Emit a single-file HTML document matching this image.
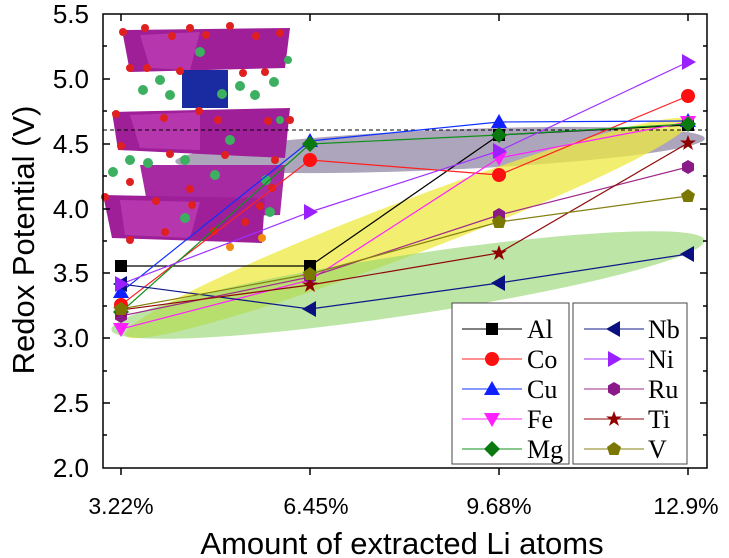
<!DOCTYPE html>
<html><head><meta charset="utf-8"><style>body{margin:0;background:#fff}svg{display:block}</style></head><body>
<svg width="729" height="558" viewBox="0 0 729 558" xmlns="http://www.w3.org/2000/svg" font-family="Liberation Sans, sans-serif">
<defs>
<g id="sq"><rect x="-6" y="-6" width="12" height="12"/></g>
<g id="ci"><circle r="7"/></g>
<g id="tu"><polygon points="0,-8 8,6 -8,6"/></g>
<g id="td"><polygon points="0,8 8,-6 -8,-6"/></g>
<g id="di"><polygon points="0,-8 8,0 0,8 -8,0"/></g>
<g id="tl"><polygon points="-8,0 6,-8 6,8"/></g>
<g id="tr"><polygon points="8,0 -6,-8 -6,8"/></g>
<g id="hx"><polygon points="0,-7 6,-3.5 6,3.5 0,7 -6,3.5 -6,-3.5"/></g>
<g id="st"><polygon points="0,-8 2,-2.5 8,-2.5 3,1 5,7 0,3.5 -5,7 -3,1 -8,-2.5 -2,-2.5"/></g>
<g id="pe"><polygon points="0,-7 7,-2 4.5,6 -4.5,6 -7,-2"/></g>
</defs>
<ellipse cx="440" cy="150" rx="265" ry="20" transform="rotate(-2.5 440 150)" fill="#8a7fa0" opacity="0.7"/>
<ellipse cx="408" cy="228" rx="302" ry="27" transform="rotate(-20.8 408 228)" fill="#eeea40" opacity="0.75"/>
<ellipse cx="408" cy="285" rx="300" ry="30" transform="rotate(-8.6 408 285)" fill="#8fd36a" opacity="0.6"/>
<g>
<polygon points="122,30 290,28 285,68 130,72" fill="#9e1f98"/>
<polygon points="112,112 290,108 285,158 118,150" fill="#9e1f98"/>
<polygon points="140,165 285,165 280,215 150,218" fill="#a82aa2"/>
<polygon points="103,195 265,198 262,243 112,238" fill="#9e1f98"/>
<polygon points="140,35 200,32 190,70 150,68" fill="#c040b8" opacity="0.7"/>
<polygon points="130,115 200,112 200,150 140,148" fill="#c040b8" opacity="0.7"/>
<polygon points="120,200 200,202 190,238 125,235" fill="#c040b8" opacity="0.7"/>
<rect x="182" y="70" width="46" height="38" fill="#1a2aa0"/>
<g fill="#e02020">
<circle cx="123" cy="32" r="4"/><circle cx="145" cy="28" r="4"/><circle cx="172" cy="36" r="4"/><circle cx="190" cy="28" r="4"/><circle cx="206" cy="35" r="4"/><circle cx="230" cy="26" r="4"/><circle cx="256" cy="36" r="4"/><circle cx="280" cy="33" r="4"/><circle cx="130" cy="68" r="4"/><circle cx="147" cy="68" r="4"/><circle cx="180" cy="71" r="4"/><circle cx="243" cy="73" r="4"/><circle cx="265" cy="72" r="4"/><circle cx="116" cy="114" r="4"/><circle cx="164" cy="118" r="4"/><circle cx="199" cy="111" r="4"/><circle cx="218" cy="120" r="4"/><circle cx="268" cy="121" r="4"/><circle cx="290" cy="120" r="4"/><circle cx="121" cy="146" r="4"/><circle cx="170" cy="154" r="4"/><circle cx="225" cy="155" r="4"/><circle cx="275" cy="160" r="4"/><circle cx="130" cy="182" r="4"/><circle cx="190" cy="189" r="4"/><circle cx="272" cy="188" r="4"/><circle cx="105" cy="197" r="4"/><circle cx="156" cy="201" r="4"/><circle cx="192" cy="205" r="4"/><circle cx="260" cy="206" r="4"/><circle cx="130" cy="240" r="4"/><circle cx="165" cy="232" r="4"/><circle cx="214" cy="231" r="4"/><circle cx="245" cy="222" r="4"/>
</g>
<g fill="#3cb060">
<circle cx="200" cy="52" r="5"/><circle cx="143" cy="90" r="5"/><circle cx="170" cy="95" r="5"/><circle cx="160" cy="80" r="5"/><circle cx="222" cy="94" r="5"/><circle cx="255" cy="95" r="5"/><circle cx="274" cy="82" r="5"/><circle cx="240" cy="86" r="5"/><circle cx="113" cy="172" r="5"/><circle cx="148" cy="163" r="5"/><circle cx="185" cy="160" r="5"/><circle cx="215" cy="175" r="5"/><circle cx="230" cy="140" r="5"/><circle cx="266" cy="180" r="5"/><circle cx="185" cy="218" r="5"/><circle cx="270" cy="212" r="5"/><circle cx="288" cy="60" r="4"/><circle cx="280" cy="120" r="4"/><circle cx="130" cy="160" r="5"/>
</g>
<circle cx="230" cy="247" r="4" fill="#f08a10"/><circle cx="262" cy="238" r="4" fill="#f08a10"/>
</g>
<line x1="103" y1="130" x2="707" y2="130" stroke="#000" stroke-width="1" stroke-dasharray="4,3"/>
<g fill="none" stroke-width="1.2">
<polyline stroke="#000" points="121,266 310,266 499,135 688,125"/>
<polyline stroke="#ff2020" points="121,305 310,160 499,175 688,96"/>
<polyline stroke="#1030ff" points="121,292 310,141 499,122 688,121"/>
<polyline stroke="#ff20ff" points="121,329 310,280 499,158 688,122"/>
<polyline stroke="#10901a" points="121,312 310,144 499,135 688,124"/>
<polyline stroke="#101888" points="121,284 310,309 499,283 688,254"/>
<polyline stroke="#a030ff" points="121,284 310,212 499,151 688,62"/>
<polyline stroke="#a02a8a" points="121,316 310,277 499,215 688,167"/>
<polyline stroke="#900808" points="121,310 310,285 499,253 688,143"/>
<polyline stroke="#848010" points="121,309 310,274 499,222 688,196"/>
</g>
<g fill="#000"><use href="#sq" x="121" y="266"/><use href="#sq" x="310" y="266"/><use href="#sq" x="499" y="135"/><use href="#sq" x="688" y="125"/></g>
<g fill="#ff1010"><use href="#ci" x="121" y="305"/><use href="#ci" x="310" y="160"/><use href="#ci" x="499" y="175"/><use href="#ci" x="688" y="96"/></g>
<g fill="#1020ff"><use href="#tu" x="121" y="292"/><use href="#tu" x="310" y="141"/><use href="#tu" x="499" y="122"/><use href="#tu" x="688" y="121"/></g>
<g fill="#ff20ff"><use href="#td" x="121" y="329"/><use href="#td" x="310" y="280"/><use href="#td" x="499" y="158"/><use href="#td" x="688" y="122"/></g>
<g fill="#0a7a10"><use href="#di" x="121" y="312"/><use href="#di" x="310" y="144"/><use href="#di" x="499" y="135"/><use href="#di" x="688" y="124"/></g>
<g fill="#0a1080"><use href="#tl" x="121" y="284"/><use href="#tl" x="310" y="309"/><use href="#tl" x="499" y="283"/><use href="#tl" x="688" y="254"/></g>
<g fill="#9a20ff"><use href="#tr" x="121" y="284"/><use href="#tr" x="310" y="212"/><use href="#tr" x="499" y="151"/><use href="#tr" x="688" y="62"/></g>
<g fill="#8a1a88"><use href="#hx" x="121" y="316"/><use href="#hx" x="310" y="277"/><use href="#hx" x="499" y="215"/><use href="#hx" x="688" y="167"/></g>
<g fill="#900000"><use href="#st" x="121" y="310"/><use href="#st" x="310" y="285"/><use href="#st" x="499" y="253"/><use href="#st" x="688" y="143"/></g>
<g fill="#7a7800"><use href="#pe" x="121" y="309"/><use href="#pe" x="310" y="274"/><use href="#pe" x="499" y="222"/><use href="#pe" x="688" y="196"/></g>
<rect x="103" y="14" width="604" height="454" fill="none" stroke="#000" stroke-width="1.5"/>
<g stroke="#000" stroke-width="1.5">
<line x1="103" y1="79" x2="110" y2="79"/><line x1="103" y1="144" x2="110" y2="144"/><line x1="103" y1="209" x2="110" y2="209"/><line x1="103" y1="273" x2="110" y2="273"/><line x1="103" y1="338" x2="110" y2="338"/><line x1="103" y1="403" x2="110" y2="403"/>
<line x1="103" y1="46" x2="107" y2="46"/><line x1="103" y1="111" x2="107" y2="111"/><line x1="103" y1="176" x2="107" y2="176"/><line x1="103" y1="241" x2="107" y2="241"/><line x1="103" y1="306" x2="107" y2="306"/><line x1="103" y1="371" x2="107" y2="371"/><line x1="103" y1="435" x2="107" y2="435"/>
<line x1="707" y1="79" x2="700" y2="79"/><line x1="707" y1="144" x2="700" y2="144"/><line x1="707" y1="209" x2="700" y2="209"/><line x1="707" y1="273" x2="700" y2="273"/><line x1="707" y1="338" x2="700" y2="338"/><line x1="707" y1="403" x2="700" y2="403"/>
<line x1="707" y1="46" x2="703" y2="46"/><line x1="707" y1="111" x2="703" y2="111"/><line x1="707" y1="176" x2="703" y2="176"/><line x1="707" y1="241" x2="703" y2="241"/><line x1="707" y1="306" x2="703" y2="306"/><line x1="707" y1="371" x2="703" y2="371"/><line x1="707" y1="435" x2="703" y2="435"/>
<line x1="121" y1="468" x2="121" y2="475"/><line x1="310" y1="468" x2="310" y2="475"/><line x1="499" y1="468" x2="499" y2="475"/><line x1="688" y1="468" x2="688" y2="475"/>
<line x1="121" y1="14" x2="121" y2="21"/><line x1="310" y1="14" x2="310" y2="21"/><line x1="499" y1="14" x2="499" y2="21"/><line x1="688" y1="14" x2="688" y2="21"/>
</g>
<g font-size="26" text-anchor="end" fill="#000">
<text x="89" y="23">5.5</text><text x="89" y="88">5.0</text><text x="89" y="153">4.5</text><text x="89" y="218">4.0</text><text x="89" y="282">3.5</text><text x="89" y="347">3.0</text><text x="89" y="412">2.5</text><text x="89" y="477">2.0</text>
</g>
<g font-size="23" text-anchor="middle" fill="#000">
<text x="121" y="514">3.22%</text><text x="316" y="514">6.45%</text><text x="499" y="514">9.68%</text><text x="686" y="514">12.9%</text>
</g>
<text x="402" y="554" font-size="31" text-anchor="middle">Amount of extracted Li atoms</text>
<text transform="translate(34 240) rotate(-90)" font-size="31" text-anchor="middle">Redox Potential (V)</text>
<rect x="452" y="303" width="117" height="161" fill="#fff" stroke="#444" stroke-width="1"/>
<rect x="573" y="303" width="114" height="161" fill="#fff" stroke="#444" stroke-width="1"/>
<g font-family="Liberation Serif, serif" font-size="26" fill="#000">
<line x1="462" y1="329" x2="522" y2="329" stroke="#000"/><use href="#sq" x="492" y="329"/><text x="527" y="338">Al</text>
<line x1="462" y1="359" x2="522" y2="359" stroke="#ff2020"/><use href="#ci" x="492" y="359" fill="#ff1010"/><text x="527" y="368">Co</text>
<line x1="462" y1="389" x2="522" y2="389" stroke="#1030ff"/><use href="#tu" x="492" y="389" fill="#1020ff"/><text x="527" y="398">Cu</text>
<line x1="462" y1="419" x2="522" y2="419" stroke="#ff20ff"/><use href="#td" x="492" y="419" fill="#ff20ff"/><text x="527" y="428">Fe</text>
<line x1="462" y1="449" x2="522" y2="449" stroke="#10901a"/><use href="#di" x="492" y="449" fill="#0a7a10"/><text x="527" y="458">Mg</text>
<line x1="584" y1="329" x2="644" y2="329" stroke="#101888"/><use href="#tl" x="614" y="329" fill="#0a1080"/><text x="648" y="338">Nb</text>
<line x1="584" y1="359" x2="644" y2="359" stroke="#a030ff"/><use href="#tr" x="614" y="359" fill="#9a20ff"/><text x="648" y="368">Ni</text>
<line x1="584" y1="389" x2="644" y2="389" stroke="#a02a8a"/><use href="#hx" x="614" y="389" fill="#8a1a88"/><text x="648" y="398">Ru</text>
<line x1="584" y1="419" x2="644" y2="419" stroke="#900808"/><use href="#st" x="614" y="419" fill="#900000"/><text x="648" y="428">Ti</text>
<line x1="584" y1="449" x2="644" y2="449" stroke="#848010"/><use href="#pe" x="614" y="449" fill="#7a7800"/><text x="648" y="458">V</text>
</g>
</svg>
</body></html>
